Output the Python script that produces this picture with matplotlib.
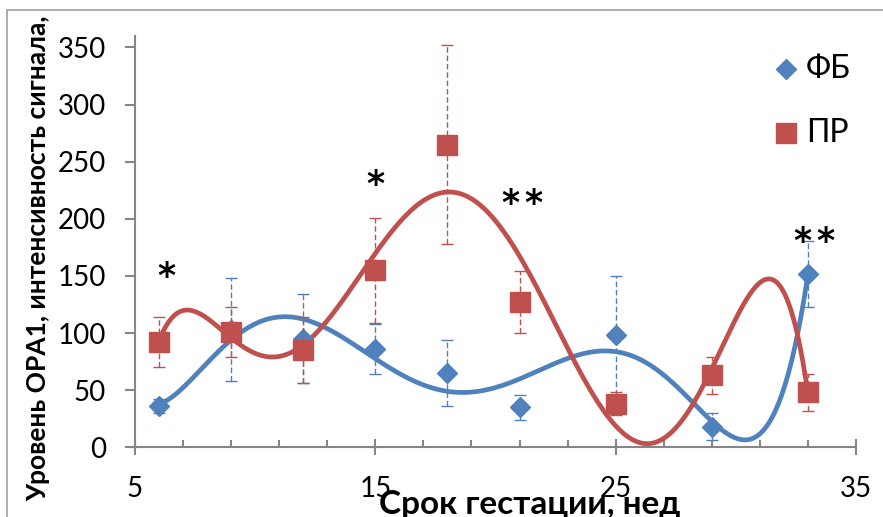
import numpy as np
import matplotlib
matplotlib.use("Agg")
import matplotlib.pyplot as plt
from matplotlib.patches import Rectangle
from matplotlib.lines import Line2D
from matplotlib.transforms import offset_copy

plt.rcParams['font.family'] = ['Lato', 'DejaVu Sans']

# Gestational age, weeks
weeks = [6, 9, 12, 15, 18, 21, 25, 29, 33]

# ФБ series: mean and error
fb_mean = [36, 103, 95, 86, 65, 35, 98, 18, 152]
fb_err = [6, 45, 39, 22, 29, 11, 52, 12, 29]

# ПР series: mean and error
pr_mean = [92, 101, 85, 155, 265, 127, 38, 63, 48]
pr_err = [22, 22, 29, 46, 87, 27, 10, 16, 16]

# Significance marks (centre position and number of asterisks)
sig_x = [6.3, 15.0, 21.1, 33.25]
sig_y = [158, 239, 222, 189]
sig_count = [1, 1, 2, 2]

blue = "#4F81BD"
red = "#C0504D"
axis_gray = "#868686"

W, H = 883, 517
fig = plt.figure(figsize=(W / 100, H / 100), dpi=100)

# chart area border (partially outside the canvas)
fig.patches.append(Rectangle((7 / W, -0.1), 1.2, (517 - 10) / H + 0.1,
                             transform=fig.transFigure, fill=False,
                             edgecolor="#a6a6a6", linewidth=1.3))

ax = fig.add_axes([135 / W, (517 - 447.3) / H, 721 / W, (447.3 - 36) / H])
ax.set_xlim(5, 35)
ax.set_ylim(0, 360)

for s in ("top", "right"):
    ax.spines[s].set_visible(False)
for s in ("left", "bottom"):
    ax.spines[s].set_color(axis_gray)
    ax.spines[s].set_linewidth(1.5)

ax.set_xticks([5, 15, 25, 35])
ax.set_xticks(np.arange(7, 35, 2), minor=True)
ax.set_yticks(np.arange(0, 351, 50))
ax.tick_params(axis="x", which="major", direction="inout", length=12,
               width=1.5, color=axis_gray, labelsize=20, pad=15)
ax.tick_params(axis="x", which="minor", direction="in", length=5,
               width=1.5, color=axis_gray)
ax.tick_params(axis="y", which="major", direction="out", length=7,
               width=1.5, color=axis_gray, labelsize=20, pad=14)

# 6th-order polynomial trendlines over the data range
xs = np.linspace(min(weeks), max(weeks), 400)
fb_fit = np.polyval(np.polyfit(weeks, fb_mean, 6), xs)
pr_fit = np.polyval(np.polyfit(weeks, pr_mean, 6), xs)
ax.plot(xs, fb_fit, color=blue, lw=3.4, zorder=2, solid_capstyle="butt")
ax.plot(xs, pr_fit, color=red, lw=3.4, zorder=2, solid_capstyle="butt")

for mean, err, col, mk, ms, z in ((fb_mean, fb_err, blue, "D", 10, 3),
                                   (pr_mean, pr_err, red, "s", 14, 4)):
    eb = ax.errorbar(weeks, mean, yerr=err, fmt="none", ecolor=col,
                     elinewidth=1, capsize=4.5, capthick=1, zorder=z)
    eb[2][0].set_linestyle((0, (4, 2)))
    ax.plot(weeks, mean, linestyle="none", marker=mk, markersize=ms,
            color=col, markeredgecolor=col, zorder=z + 0.5)

# asterisks: glyph centre sits about 0.59 em above the baseline
star_size = 25
for x, y, n in zip(sig_x, sig_y, sig_count):
    for k in range(n):
        dx = (k - (n - 1) / 2) * 16.5
        tr = offset_copy(ax.transData, fig=fig, x=dx,
                         y=-0.59 * star_size, units="points")
        ax.text(x, y, "*", fontsize=star_size, family="DejaVu Sans",
                fontweight="bold", ha="center", va="baseline",
                color="black", transform=tr)

# legend
legend_items = [("ФБ", blue, "D", 10, 69), ("ПР", red, "s", 14, 133)]
for label, col, mk, ms, ypx in legend_items:
    fig.add_artist(Line2D([786 / W], [1 - ypx / H], marker=mk, markersize=ms,
                          color=col, linestyle="none",
                          transform=fig.transFigure))
    fig.text(806 / W, 1 - ypx / H, label, fontsize=23, va="center",
             ha="left")

fig.text(38 / W, 1 - 258 / H, "Уровень ОРА1, интенсивность сигнала,",
         rotation=90, fontsize=19, fontweight="bold", ha="center",
         va="center")
fig.text(530 / W, 3 / H, "Срок гестации, нед", fontsize=24,
         fontweight="bold", ha="center", va="baseline")

fig.savefig("out.png", dpi=100)
